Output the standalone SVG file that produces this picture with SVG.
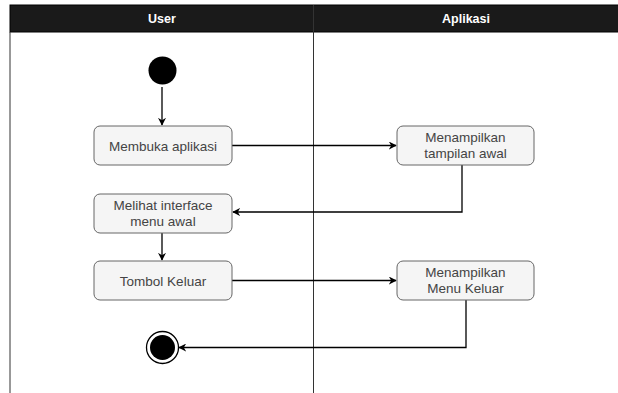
<svg xmlns="http://www.w3.org/2000/svg" width="618" height="393" viewBox="0 0 618 393">
<style>
.box{fill:#f5f5f5;stroke:#666666;stroke-width:1}
.t{font-family:"Liberation Sans",Arial,sans-serif;font-size:13.5px;fill:#444444;text-anchor:middle}
.h{font-family:"Liberation Sans",Arial,sans-serif;font-size:12.5px;font-weight:bold;fill:#ffffff;text-anchor:middle}
.c{fill:none;stroke:#000000;stroke-width:1.3}
</style>
<defs>
<marker id="a" viewBox="0 0 10 10" refX="9" refY="5" markerWidth="8" markerHeight="8" orient="auto" markerUnits="userSpaceOnUse">
<path d="M0,0 L10,5 L0,10 L3,5 Z" fill="#000"/>
</marker>
</defs>
<rect width="618" height="393" fill="#ffffff"/>
<g id="pool">
<rect x="10" y="5" width="620" height="27" fill="#1a1a1a" stroke="#000"/>
<line x1="10" y1="32" x2="10" y2="393" stroke="#333" stroke-width="1"/>
<line x1="313.5" y1="5" x2="313.5" y2="393" stroke="#333" stroke-width="1"/>
<text class="h" x="162" y="23">User</text>
<text class="h" x="466" y="23">Aplikasi</text>
</g>
<g id="connectors">
<path class="c" d="M162,87 V125" marker-end="url(#a)"/>
<path class="c" d="M232,145.5 H396" marker-end="url(#a)"/>
<path class="c" d="M462,165 V212 H233" marker-end="url(#a)"/>
<path class="c" d="M162,233 V260" marker-end="url(#a)"/>
<path class="c" d="M232,280.5 H396" marker-end="url(#a)"/>
<path class="c" d="M466,300 V347.5 H179" marker-end="url(#a)"/>
</g>
<g id="start"><circle cx="162.5" cy="70.5" r="14" fill="#000"/></g>
<g id="n1"><rect class="box" x="94" y="126" width="138" height="39" rx="6"/><text class="t" x="163" y="150.5">Membuka aplikasi</text></g>
<g id="n2"><rect class="box" x="397" y="126" width="137" height="39" rx="6"/><text class="t" x="465.5" y="142">Menampilkan</text><text class="t" x="465.5" y="158">tampilan awal</text></g>
<g id="n3"><rect class="box" x="94" y="194" width="138" height="39" rx="6"/><text class="t" x="163" y="210">Melihat interface</text><text class="t" x="163" y="226">menu awal</text></g>
<g id="n4"><rect class="box" x="94" y="261" width="138" height="39" rx="6"/><text class="t" x="163" y="285.5">Tombol Keluar</text></g>
<g id="n5"><rect class="box" x="397" y="261" width="137" height="39" rx="6"/><text class="t" x="465.5" y="277">Menampilkan</text><text class="t" x="465.5" y="293">Menu Keluar</text></g>
<g id="end"><circle cx="162.5" cy="347.5" r="16" fill="#fff" stroke="#000" stroke-width="1.3"/><circle cx="162.5" cy="347.5" r="12.5" fill="#000"/></g>
</svg>
